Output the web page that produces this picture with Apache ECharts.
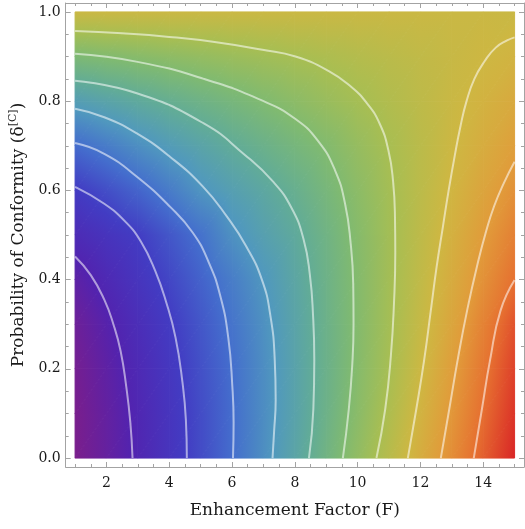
<!DOCTYPE html>
<html>
<head>
<meta charset="utf-8">
<script src="https://cdn.jsdelivr.net/npm/echarts@6/dist/echarts.min.js"></script>
<style>
  html, body { margin: 0; padding: 0; background: #ffffff; }
  #chart { width: 525px; height: 529px; }
</style>
</head>
<body>
<div id="chart"></div>
<script>
// Sample grid of the payoff surface: enhancement factor F (columns) by conformity probability (rows)
const gridF = [1, 2, 3, 4, 5, 6, 7, 8, 9, 10, 11, 12, 13, 14, 15];
const gridDelta = [0, 0.1, 0.2, 0.3, 0.4, 0.5, 0.6, 0.7, 0.8, 0.9, 1.0];

// Surface values, one row per conformity level (in contour-level units)
const row00 = [0.10, 0.58, 1.10, 1.68, 2.30, 2.98, 3.77, 4.61, 5.51, 6.44, 7.40, 8.38, 9.33, 10.29, 11.24];
const row01 = [0.12, 0.62, 1.14, 1.70, 2.31, 2.97, 3.72, 4.51, 5.36, 6.25, 7.16, 8.15, 9.10, 10.05, 11.00];
const row02 = [0.22, 0.72, 1.25, 1.79, 2.39, 3.01, 3.73, 4.50, 5.31, 6.14, 6.98, 7.92, 8.88, 9.83, 10.78];
const row03 = [0.40, 0.90, 1.42, 1.94, 2.52, 3.14, 3.81, 4.56, 5.33, 6.10, 6.90, 7.76, 8.64, 9.57, 10.51];
const row04 = [0.75, 1.23, 1.70, 2.20, 2.76, 3.35, 3.98, 4.67, 5.38, 6.11, 6.87, 7.64, 8.43, 9.23, 10.00];
const row05 = [1.32, 1.66, 2.00, 2.53, 3.08, 3.82, 4.37, 4.85, 5.48, 6.16, 6.86, 7.56, 8.25, 8.96, 9.62];
const row06 = [1.95, 2.36, 2.80, 3.32, 3.90, 4.33, 4.73, 5.18, 5.72, 6.30, 6.90, 7.49, 8.08, 8.67, 9.24];
const row07 = [2.94, 3.33, 3.77, 4.18, 4.56, 4.95, 5.31, 5.68, 6.06, 6.54, 7.01, 7.48, 7.95, 8.41, 8.87];
const row08 = [4.27, 4.56, 4.85, 5.14, 5.42, 5.71, 6.00, 6.31, 6.62, 6.92, 7.24, 7.56, 7.87, 8.19, 8.51];
const row09 = [5.90, 6.05, 6.20, 6.36, 6.51, 6.67, 6.82, 6.98, 7.14, 7.31, 7.47, 7.64, 7.81, 7.97, 8.15];
const row10 = [7.90, 7.90, 7.90, 7.90, 7.90, 7.90, 7.90, 7.90, 7.90, 7.90, 7.90, 7.90, 7.90, 7.90, 7.88];
const fieldRows = [row00, row01, row02, row03, row04, row05, row06, row07, row08, row09, row10];

// Rainbow colour scale, anchored at surface levels
const paletteLevels = [0.10, 1, 2, 3, 4, 5, 6, 7, 8, 9, 10, 11.24];
const paletteColors = [
  [122, 30, 140], [82, 35, 175], [66, 60, 195], [68, 110, 205],
  [80, 152, 190], [98, 172, 150], [128, 186, 112], [168, 190, 82],
  [206, 183, 66], [225, 155, 58], [230, 112, 48], [217, 38, 38]
];

// Contour lines, levels 1..10, as [F, delta] points
const contour1 = [[1, 0.452], [1.5, 0.41], [1.93, 0.355], [2.22, 0.30], [2.45, 0.24], [2.63, 0.16], [2.76, 0.08], [2.83, 0]];
const contour2 = [[1, 0.608], [1.93, 0.570], [2.6, 0.53], [3.1, 0.485], [3.55, 0.42], [3.9, 0.35], [4.2, 0.27], [4.42, 0.17], [4.53, 0.085], [4.56, 0]];
const contour3 = [[1, 0.706], [1.93, 0.682], [2.98, 0.630], [4.03, 0.563], [4.75, 0.505], [5.25, 0.44], [5.62, 0.365], [5.88, 0.27], [6.01, 0.16], [6.05, 0.08], [6.03, 0]];
const contour4 = [[1, 0.783], [1.93, 0.764], [2.98, 0.727], [4.03, 0.675], [5.08, 0.608], [5.85, 0.54], [6.45, 0.475], [6.95, 0.40], [7.22, 0.32], [7.36, 0.22], [7.39, 0.13], [7.34, 0.06], [7.29, 0]];
const contour5 = [[1, 0.846], [2.99, 0.817], [5.1, 0.750], [6.4, 0.68], [7.3, 0.62], [7.9, 0.56], [8.28, 0.49], [8.48, 0.41], [8.58, 0.32], [8.62, 0.22], [8.59, 0.11], [8.45, 0]];
const contour6 = [[1, 0.906], [2.99, 0.888], [5.1, 0.850], [6.97, 0.801], [8.02, 0.760], [8.75, 0.71], [9.28, 0.645], [9.6, 0.57], [9.78, 0.48], [9.86, 0.39], [9.87, 0.30], [9.83, 0.21], [9.72, 0.11], [9.53, 0]];
const contour7 = [[1, 0.957], [2.5, 0.952], [4, 0.944], [5.5, 0.932], [6.97, 0.915], [8.02, 0.900], [9.07, 0.868], [9.81, 0.831], [10.3, 0.795], [10.7, 0.75], [10.98, 0.69], [11.13, 0.62], [11.19, 0.54], [11.2, 0.46], [11.16, 0.35], [11.06, 0.23], [10.88, 0.11], [10.6, 0]];
const contour8 = [[15, 0.943], [14.76, 0.936], [14.4, 0.92], [14.05, 0.89], [13.72, 0.85], [13.47, 0.80], [13.28, 0.745], [13.1, 0.68], [12.9, 0.6], [12.72, 0.52], [12.52, 0.43], [12.33, 0.33], [12.12, 0.22], [11.87, 0.11], [11.60, 0]];
const contour9 = [[15, 0.664], [14.65, 0.615], [14.35, 0.565], [14.1, 0.51], [13.82, 0.435], [13.5, 0.335], [13.2, 0.225], [12.92, 0.11], [12.65, 0]];
const contour10 = [[15, 0.399], [14.55, 0.33], [14.22, 0.22], [13.96, 0.11], [13.70, 0]];
const contours = [contour1, contour2, contour3, contour4, contour5, contour6, contour7, contour8, contour9, contour10];

// Frame ticks
const xMajorTicks = [2, 4, 6, 8, 10, 12, 14];
const xMinorTicks = [1, 1.5, 2.5, 3, 3.5, 4.5, 5, 5.5, 6.5, 7, 7.5, 8.5, 9, 9.5, 10.5, 11, 11.5, 12.5, 13, 13.5, 14.5, 15];
const yMajorTicks = [0, 0.2, 0.4, 0.6, 0.8, 1.0];
const yMinorTicks = [0.05, 0.1, 0.15, 0.25, 0.3, 0.35, 0.45, 0.5, 0.55, 0.65, 0.7, 0.75, 0.85, 0.9, 0.95];

const FONT = 'DejaVu Serif';
const FRAME = '#a3a3a3';

function colorAt(v) {
  const n = paletteLevels.length;
  if (v <= paletteLevels[0]) return 'rgb(' + paletteColors[0].join(',') + ')';
  if (v >= paletteLevels[n - 1]) return 'rgb(' + paletteColors[n - 1].join(',') + ')';
  let k = 0;
  while (v > paletteLevels[k + 1]) k++;
  const t = (v - paletteLevels[k]) / (paletteLevels[k + 1] - paletteLevels[k]);
  const a = paletteColors[k], b = paletteColors[k + 1];
  const c = a.map((x, q) => Math.round(x + (b[q] - x) * t));
  return 'rgb(' + c.join(',') + ')';
}

// Linear shading of one triangle: the value varies linearly across it,
// so a linear gradient along the value gradient reproduces it exactly.
function shade(tri) {
  const [p0, p1, p2] = tri;
  const vals = tri.map(p => p.v);
  const lo = Math.min(...vals), hi = Math.max(...vals);
  if (hi - lo < 1e-6) return colorAt(lo);
  const e1x = p1.x - p0.x, e1y = p1.y - p0.y;
  const e2x = p2.x - p0.x, e2y = p2.y - p0.y;
  const d1 = p1.v - p0.v, d2 = p2.v - p0.v;
  const det = e1x * e2y - e1y * e2x;
  const gx = (d1 * e2y - d2 * e1y) / det;
  const gy = (e1x * d2 - e2x * d1) / det;
  const g2 = gx * gx + gy * gy;
  if (g2 < 1e-12) return colorAt((lo + hi) / 2);
  const sx = p0.x + gx * (lo - p0.v) / g2, sy = p0.y + gy * (lo - p0.v) / g2;
  const ex = p0.x + gx * (hi - p0.v) / g2, ey = p0.y + gy * (hi - p0.v) / g2;
  const stops = [{ offset: 0, color: colorAt(lo) }];
  paletteLevels.forEach((L, k) => {
    if (L > lo && L < hi) {
      stops.push({ offset: (L - lo) / (hi - lo), color: 'rgb(' + paletteColors[k].join(',') + ')' });
    }
  });
  stops.push({ offset: 1, color: colorAt(hi) });
  return new echarts.graphic.LinearGradient(sx, sy, ex, ey, stops, true);
}

function renderCell(params, api) {
  const i = api.value(2), j = api.value(3);
  const corners = [[i, j], [i + 1, j], [i + 1, j + 1], [i, j + 1]].map(([a, b]) => {
    const p = api.coord([gridF[a], gridDelta[b]]);
    return { x: p[0], y: p[1], v: fieldRows[b][a] };
  });
  const tris = [[corners[0], corners[1], corners[2]], [corners[0], corners[2], corners[3]]];
  return {
    type: 'group',
    children: tris.map(t => ({
      type: 'polygon',
      shape: { points: t.map(c => [c.x, c.y]) },
      style: { fill: shade(t), stroke: shade(t), lineWidth: 1 }
    }))
  };
}

const cells = [];
for (let j = 0; j < gridDelta.length - 1; j++) {
  for (let i = 0; i < gridF.length - 1; i++) {
    cells.push([(gridF[i] + gridF[i + 1]) / 2, (gridDelta[j] + gridDelta[j + 1]) / 2, i, j]);
  }
}

function frameAxis(position, min, max, ticks, len, showLine, label, extra) {
  return Object.assign({
    type: 'value', position: position, min: min, max: max, offset: 0,
    axisLine: { show: showLine, onZero: false, lineStyle: { color: FRAME, width: 1 } },
    axisTick: { show: true, inside: true, length: len, customValues: ticks, lineStyle: { color: FRAME, width: 1 } },
    axisLabel: label ? Object.assign({ show: true, customValues: ticks, color: '#1a1a1a', fontFamily: FONT, fontSize: 14 }, label) : { show: false },
    splitLine: { show: false },
    minorTick: { show: false },
    axisPointer: { show: false }
  }, extra || {});
}

const X_MIN = 0.7, X_MAX = 15.3, Y_MIN = -0.02, Y_MAX = 1.02;

const option = {
  animation: false,
  backgroundColor: '#ffffff',
  grid: { left: 61, right: 1, top: 3, bottom: 62, containLabel: false },
  xAxis: [
    frameAxis('bottom', X_MIN, X_MAX, xMajorTicks, 5, true, { margin: 9, formatter: v => String(v) }, {
      name: 'Enhancement Factor (F)', nameLocation: 'middle', nameGap: 35,
      nameTextStyle: { fontFamily: FONT, fontSize: 17, color: '#1a1a1a' }
    }),
    frameAxis('bottom', X_MIN, X_MAX, xMinorTicks, 3, false, null),
    frameAxis('top', X_MIN, X_MAX, xMajorTicks, 5, true, null),
    frameAxis('top', X_MIN, X_MAX, xMinorTicks, 3, false, null)
  ],
  yAxis: [
    frameAxis('left', Y_MIN, Y_MAX, yMajorTicks, 5, true, { margin: 5, formatter: v => v.toFixed(1) }, {
      name: 'Probability of Conformity (δ{sup|[C]})', nameLocation: 'middle', nameGap: 31, nameRotate: 90,
      nameTextStyle: {
        fontFamily: FONT, fontSize: 17, color: '#1a1a1a',
        rich: { sup: { fontFamily: FONT, fontSize: 11, color: '#1a1a1a', verticalAlign: 'top', lineHeight: 22 } }
      }
    }),
    frameAxis('left', Y_MIN, Y_MAX, yMinorTicks, 3, false, null),
    frameAxis('right', Y_MIN, Y_MAX, yMajorTicks, 5, true, null),
    frameAxis('right', Y_MIN, Y_MAX, yMinorTicks, 3, false, null)
  ],
  series: [
    {
      type: 'custom', name: 'surface', coordinateSystem: 'cartesian2d',
      xAxisIndex: 0, yAxisIndex: 0, silent: true, z: 1,
      encode: { x: 0, y: 1 },
      renderItem: renderCell,
      data: cells
    }
  ].concat(contours.map((pts, k) => ({
    type: 'line', name: 'level ' + (k + 1), xAxisIndex: 0, yAxisIndex: 0,
    data: pts, smooth: 0.5, symbol: 'none', silent: true, z: 3,
    lineStyle: { color: 'rgba(255,255,255,0.55)', width: 2 }
  })))
};

const chart = echarts.init(document.getElementById('chart'), null, { renderer: 'canvas' });
chart.setOption(option);
</script>
</body>
</html>
